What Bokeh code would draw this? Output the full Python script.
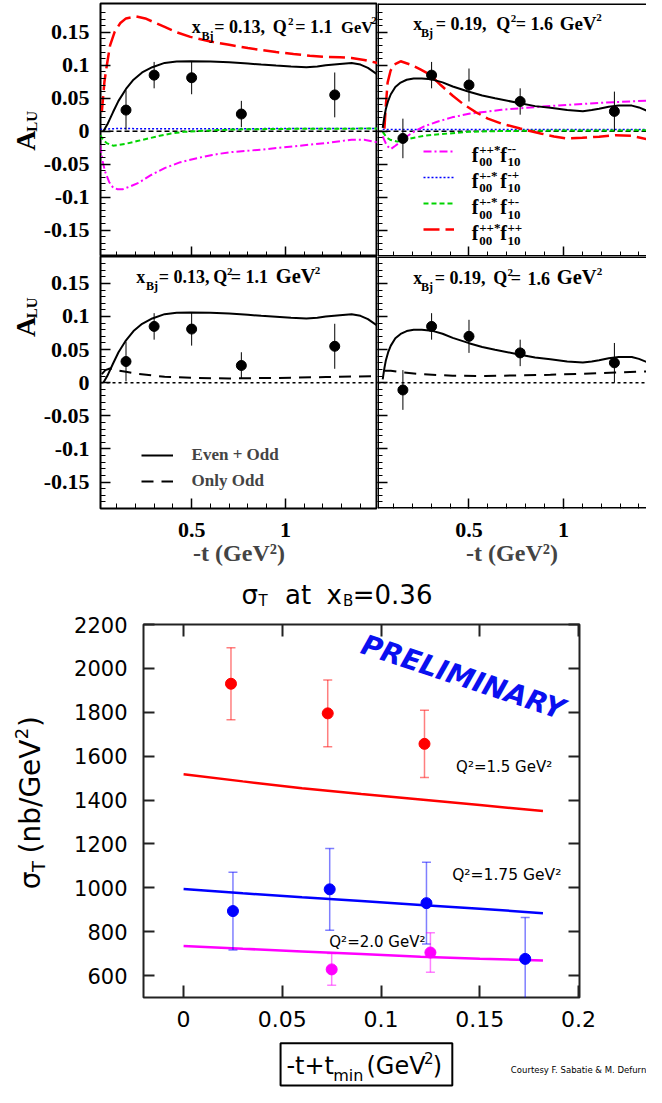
import math
from bokeh.plotting import figure
from bokeh.models import (Range1d, FixedTicker, Label, Legend, LegendItem, LinearAxis,
                          CustomJSTickFormatter, Span, BoxAnnotation)
from bokeh.layouts import column, row
from bokeh.embed import file_html
from bokeh.resources import INLINE

# ---------------- A_LU data (upper block) ----------------
T_13 = [0.150, 0.300, 0.500, 0.765, 1.263]
ALU_13 = [0.032, 0.085, 0.081, 0.026, 0.055]
ERR_13 = [0.030, 0.020, 0.025, 0.020, 0.034]

T_19 = [0.150, 0.302, 0.500, 0.771, 1.270]
ALU_19 = [-0.011, 0.085, 0.070, 0.045, 0.030]
ERR_19 = [0.030, 0.020, 0.025, 0.020, 0.030]

FULL13_T = [0.029, 0.05, 0.081, 0.11, 0.15, 0.19, 0.236, 0.29, 0.356, 0.42, 0.493, 0.60, 0.70,
            0.80, 0.871, 0.95, 1.03, 1.112, 1.17, 1.215, 1.29, 1.353, 1.40, 1.44, 1.49]
FULL13 = [0.0, 0.010, 0.029, 0.046, 0.064, 0.078, 0.089, 0.097, 0.1035, 0.1055, 0.106, 0.1055,
          0.1045, 0.1025, 0.101, 0.0995, 0.098, 0.097, 0.098, 0.100, 0.102, 0.1035, 0.101, 0.096, 0.086]

RED13_T = [0.021, 0.035, 0.047, 0.065, 0.090, 0.12, 0.150, 0.202, 0.253, 0.30, 0.356, 0.42, 0.493,
           0.60, 0.70, 0.80, 0.871, 0.95, 1.043, 1.13, 1.215, 1.29, 1.353, 1.42, 1.49]
RED13 = [0.029, 0.075, 0.0985, 0.130, 0.151, 0.164, 0.171, 0.174, 0.171, 0.165, 0.158, 0.150, 0.143,
         0.136, 0.131, 0.126, 0.123, 0.120, 0.117, 0.1145, 0.1125, 0.112, 0.111, 0.108, 0.1035]

MAG13_T = [0.012, 0.025, 0.038, 0.06, 0.081, 0.105, 0.132, 0.17, 0.219, 0.28, 0.356, 0.44, 0.528,
           0.61, 0.70, 0.871, 1.043, 1.215, 1.353, 1.42, 1.49]
MAG13 = [-0.021, -0.045, -0.061, -0.077, -0.0855, -0.088, -0.088, -0.084, -0.078, -0.067, -0.056,
         -0.047, -0.041, -0.036, -0.032, -0.028, -0.023, -0.018, -0.013, -0.013, -0.017]

GRN13_T = [0.012, 0.03, 0.047, 0.081, 0.15, 0.21, 0.27, 0.33, 0.39, 0.46, 0.528, 0.70, 1.0, 1.49]
GRN13 = [-0.006, -0.014, -0.018, -0.022, -0.019, -0.015, -0.011, -0.007, -0.0035, -0.001, 0.0,
         0.0025, 0.0035, 0.004]

BLU13_T = [0.012, 0.1, 0.5, 1.0, 1.49]
BLU13 = [0.003, 0.004, 0.0035, 0.004, 0.004]

FULL19_T = [0.043, 0.052, 0.060, 0.072, 0.086, 0.11, 0.138, 0.17, 0.207, 0.25, 0.302, 0.36, 0.414,
            0.50, 0.57, 0.638, 0.771, 0.85, 0.931, 1.02, 1.103, 1.15, 1.189, 1.24, 1.293, 1.362,
            1.40, 1.44]
FULL19 = [0.005, 0.022, 0.034, 0.046, 0.056, 0.067, 0.0737, 0.078, 0.080, 0.0798, 0.0786, 0.074,
          0.0677, 0.0597, 0.054, 0.0498, 0.0423, 0.038, 0.0354, 0.032, 0.0304, 0.032, 0.034, 0.037,
          0.0388, 0.0388, 0.036, 0.0313]

RED19_T = [0.052, 0.060, 0.069, 0.085, 0.103, 0.138, 0.19, 0.24, 0.293, 0.35, 0.414, 0.47, 0.535,
           0.60, 0.672, 0.771, 0.879, 0.95, 1.017, 1.10, 1.189, 1.276, 1.362, 1.44]
RED19 = [0.004, 0.040, 0.0737, 0.092, 0.101, 0.106, 0.101, 0.094, 0.086, 0.070, 0.0537, 0.041,
         0.029, 0.019, 0.0115, 0.004, -0.0035, -0.008, -0.011, -0.010, -0.0084, -0.006, -0.007, -0.012]

MAG19_T = [0.043, 0.065, 0.086, 0.11, 0.138, 0.17, 0.207, 0.26, 0.328, 0.41, 0.50, 0.672, 0.845,
           1.017, 1.189, 1.30, 1.44]
MAG19 = [-0.008, -0.022, -0.027, -0.022, -0.016, -0.008, -0.001, 0.007, 0.014, 0.021, 0.0264,
         0.0324, 0.0364, 0.0398, 0.0428, 0.0445, 0.0463]

GRN19_T = [0.043, 0.065, 0.086, 0.121, 0.19, 0.26, 0.328, 0.5, 0.672, 1.0, 1.44]
GRN19 = [-0.001, -0.010, -0.0134, -0.0158, -0.011, -0.007, -0.005, -0.001, 0.0003, 0.001, 0.0013]

BLU19_T = [0.043, 0.5, 1.0, 1.44]
BLU19 = [0.0025, 0.0025, 0.0025, 0.0025]

ODD13_T = [0.021, 0.04, 0.064, 0.098, 0.15, 0.219, 0.356, 0.528, 0.70, 0.871, 1.043, 1.215, 1.49]
ODD13 = [0.013, 0.019, 0.0215, 0.019, 0.0164, 0.013, 0.009, 0.007, 0.0065, 0.007, 0.0075, 0.0085, 0.010]

ODD19_T = [0.052, 0.086, 0.15, 0.241, 0.414, 0.586, 0.758, 0.931, 1.103, 1.276, 1.44]
ODD19 = [0.018, 0.018, 0.0155, 0.013, 0.0105, 0.010, 0.011, 0.012, 0.0135, 0.0155, 0.017]

ALU_TICKS = [-0.15, -0.1, -0.05, 0, 0.05, 0.1, 0.15]
ALU_MINOR = [round(-0.18 + 0.01 * i, 2) for i in range(37)]
T_TICKS = [0.5, 1.0]
T_MINOR = [round(0.1 * i, 1) for i in range(1, 15)]

# ---------------- sigma_T data (lower block) ----------------
T_RED = [0.024, 0.073, 0.122]
SIG_RED = [1930, 1795, 1656]
ERR_RED = [164, 152, 153]
T_BLUE = [0.025, 0.074, 0.123, 0.173]
SIG_BLUE = [894, 993, 930, 676]
ERR_BLUE = [177, 186, 186, 189]
T_MAG = [0.075, 0.125]
SIG_MAG = [628, 705]
ERR_MAG = [72, 90]
T_MODEL = [0, 0.03, 0.06, 0.09, 0.12, 0.15, 0.182]
MODEL_RED = [1517, 1485, 1454, 1427, 1402, 1377, 1350]
MODEL_BLUE = [995, 975, 957, 940, 922, 905, 884]
MODEL_MAG = [735, 722, 710, 698, 686, 677, 669]
SIG_TICKS = [600, 800, 1000, 1200, 1400, 1600, 1800, 2000, 2200]
TMIN_TICKS = [0, 0.05, 0.1, 0.15, 0.2]

# ---------------- layout helpers ----------------
SX = 646 / 662
SY = 1087 / 1103
SERIF = "Liberation Serif"
SANS = "DejaVu Sans"
RED, MAG, GRN, BLU = "#ff0000", "#ff00ff", "#00d400", "#0000ff"
EMPTY = "return '';"
MID = 0.34  # distance (in em) from the baseline up to the middle of the text box


def PX(x):
    return x * SX


def PY(y):
    return y * SY


def add_label(p, geo, xr, yr, text, size, font=SERIF, style="bold", color="black", align="left"):
    """Text whose baseline sits at reference pixel (xr, yr)."""
    ox, oy, fl, ft, fh = geo
    p.add_layout(Label(x=PX(xr) - ox - fl, y=oy + ft + fh - (PY(yr) - MID * size),
                       x_units="screen", y_units="screen", text=text, text_font=font,
                       text_font_style=style, text_font_size=f"{size}px", text_color=color,
                       text_align=align, text_baseline="middle"))


def add_vlabel(p, geo, cx, cy, text, size, font=SERIF, style="bold"):
    """Rotated (bottom-to-top) text centred on page pixel (cx, cy)."""
    ox, oy, fl, ft, fh = geo
    p.add_layout(Label(x=cx - ox - fl, y=oy + ft + fh - cy, x_units="screen", y_units="screen",
                       text=text, text_font=font, text_font_style=style,
                       text_font_size=f"{size}px", text_color="black", text_align="center",
                       text_baseline="middle", angle=math.pi / 2))


def text_fig(w, h):
    f = figure(width=w, height=h, x_range=Range1d(0, 1), y_range=Range1d(0, 1),
               x_axis_location=None, y_axis_location=None, output_backend="svg",
               toolbar_location=None, title=None, min_border=0, min_border_left=0,
               min_border_right=0, min_border_top=0, min_border_bottom=0)
    f.outline_line_color = None
    f.xgrid.visible = False
    f.ygrid.visible = False
    f.background_fill_color = "white"
    f.border_fill_color = "white"
    return f


def root_axis(ax, ticks, minor, show, size=22, standoff=10):
    ax.ticker = FixedTicker(ticks=ticks, minor_ticks=minor)
    ax.axis_line_color = None
    ax.major_tick_in = 10
    ax.major_tick_out = 0
    ax.minor_tick_in = 5
    ax.minor_tick_out = 0
    ax.major_tick_line_color = "black"
    ax.minor_tick_line_color = "black"
    ax.major_tick_line_width = 1.5
    ax.minor_tick_line_width = 1
    if show:
        ax.formatter = CustomJSTickFormatter(code="return String(Math.round(tick * 1000) / 1000);")
        ax.major_label_text_font = SERIF
        ax.major_label_text_font_style = "bold"
        ax.major_label_text_font_size = f"{size}px"
        ax.major_label_text_color = "black"
        ax.major_label_standoff = standoff
    else:
        ax.formatter = CustomJSTickFormatter(code=EMPTY)
        ax.major_label_text_font_size = "0px"
        ax.major_label_standoff = 0


def alu_panel(w, h, fl, ft, fb, xr, yr, show_y, show_x, zero_dash, open_right=False):
    p = figure(width=w, height=h, x_range=xr, y_range=yr, output_backend="svg",
               toolbar_location=None, title=None, min_border_left=fl, min_border_right=0,
               min_border_top=ft, min_border_bottom=fb)
    p.xgrid.visible = False
    p.ygrid.visible = False
    p.background_fill_color = "white"
    p.border_fill_color = "white"
    if open_right:
        # the reference crops these panels on the right: draw only left/top/bottom borders
        p.outline_line_color = None
        for loc, dim in ((yr.start, "width"), (yr.end, "width"), (xr.start, "height")):
            p.add_layout(Span(location=loc, dimension=dim, line_color="black", line_width=3))
    else:
        p.outline_line_color = "black"
        p.outline_line_width = 2
    root_axis(p.yaxis[0], ALU_TICKS, ALU_MINOR, show_y, size=22, standoff=11)
    root_axis(p.xaxis[0], T_TICKS, T_MINOR, show_x, size=22, standoff=14)
    if show_x:
        p.xaxis[0].axis_label = "-t (GeV²)"
        p.xaxis[0].axis_label_text_font = SERIF
        p.xaxis[0].axis_label_text_font_style = "bold"
        p.xaxis[0].axis_label_text_font_size = "24px"
        p.xaxis[0].axis_label_standoff = 0
    p.add_layout(Span(location=0, dimension="width", line_color="black", line_width=1.5,
                      line_dash=zero_dash, level="underlay"))
    return p


def data_points(p, t, a, e):
    p.segment(x0=t, y0=[v - d for v, d in zip(a, e)], x1=t, y1=[v + d for v, d in zip(a, e)],
              line_color="black", line_width=1)
    p.scatter(t, a, size=10, color="black")


def kin_text(p, geo, pieces):
    for xr, yr, txt, size in pieces:
        add_label(p, geo, xr, yr, txt, size)


XR_L = (0.014, 1.491)
XR_R = (0.0155, 1.44)
AW = 40   # strip carrying the rotated A_LU labels
H1 = 256  # upper row height
H2 = 317  # lower row height

# geometry (ox, oy, frame_left, frame_top, frame_height) in page pixels
G_AT = (0, 0, 0, 0, H1)
G_AB = (0, H1, 0, 0, H2)
G_TL = (AW, 0, 98 - AW, 3, 253)
G_TR = (377, 0, 0, 3, 253)
G_BL = (AW, H1, 98 - AW, 0, 252)
G_BR = (377, H1, 0, 0, 252)
G_TITLE = (0, H1 + H2, 0, 0, 38)
G_YLAB = (0, 611, 0, 0, 426)
G_XLAB = (0, 1037, 0, 0, 50)

# ---------------- A_LU label strips ----------------
a_top = text_fig(AW, H1)
a_bot = text_fig(AW, H2)
for f, g, yz in ((a_top, G_AT, 132.7), (a_bot, G_AB, 387.7)):
    add_vlabel(f, g, 24.5, PY(yz + 9.5), "A", 28)
    add_vlabel(f, g, 31.3, PY(yz - 10), "LU", 15)

# ---------------- top-left ----------------
p_tl = alu_panel(377 - AW, H1, 98 - AW, 3, 0, Range1d(*XR_L), Range1d(-0.190, 0.1936),
                 True, False, "5 3")
p_tl.line(BLU13_T, BLU13, line_color=BLU, line_width=1.5, line_dash="2 2")
p_tl.line(GRN13_T, GRN13, line_color=GRN, line_width=2, line_dash="5 3")
p_tl.line(MAG13_T, MAG13, line_color=MAG, line_width=2, line_dash="8 3 2 3")
p_tl.line(RED13_T, RED13, line_color=RED, line_width=2.5, line_dash="16 6")
p_tl.line(FULL13_T, FULL13, line_color="black", line_width=2)
data_points(p_tl, T_13, ALU_13, ERR_13)
kin_text(p_tl, G_TL, [(194, 33, "x", 18), (204, 40, "Bj", 12), (217, 33, "= 0.13,", 18),
                      (277, 33, "Q", 18), (292.5, 25, "2", 11), (300, 33, "= 1.1", 18),
                      (347, 33, "GeV", 16.5), (378, 24, "2", 11)])

# ---------------- top-right ----------------
p_tr = alu_panel(269, H1, 0, 3, 0, Range1d(*XR_R), Range1d(-0.190, 0.1936), False, False, "5 3",
                 open_right=True)
r_blu = p_tr.line(BLU19_T, BLU19, line_color=BLU, line_width=1.5, line_dash="2 2")
r_grn = p_tr.line(GRN19_T, GRN19, line_color=GRN, line_width=2, line_dash="5 3")
r_mag = p_tr.line(MAG19_T, MAG19, line_color=MAG, line_width=2, line_dash="8 3 2 3")
r_red = p_tr.line(RED19_T, RED19, line_color=RED, line_width=2.5, line_dash="16 6")
p_tr.line(FULL19_T, FULL19, line_color="black", line_width=2)
data_points(p_tr, T_19, ALU_19, ERR_19)
kin_text(p_tr, G_TR, [(423, 30, "x", 18), (431, 37, "Bj", 12), (446, 30, "= 0.19,", 18),
                      (508, 30, "Q", 18), (523, 22, "2", 11), (528, 30, "= 1.6", 18),
                      (573, 30, "GeV", 19), (610.5, 21, "2", 11)])
leg_tr = Legend(items=[LegendItem(label=" ", renderers=[r]) for r in (r_mag, r_blu, r_grn, r_red)],
                location=(45.5, 14), glyph_width=31, glyph_height=26, label_height=26,
                label_width=1, label_standoff=0, spacing=0, padding=0, margin=0,
                border_line_alpha=0, background_fill_alpha=0, label_text_font_size="1px")
p_tr.add_layout(leg_tr)
SUPS = [("++*", "--"), ("+-*", "-+"), ("+-*", "+-"), ("++*", "++")]
for ly, (s1, s2) in zip([153.3, 180.0, 206.7, 233.3], SUPS):
    add_label(p_tr, G_TR, 483, ly + 10, "f", 20)
    add_label(p_tr, G_TR, 490.5, ly + 15, "00", 13)
    add_label(p_tr, G_TR, 490.5, ly + 2, s1, 13)
    add_label(p_tr, G_TR, 512, ly + 10, "f", 20)
    add_label(p_tr, G_TR, 519.5, ly + 15, "10", 13)
    add_label(p_tr, G_TR, 519.5, ly + 2, s2, 13)

# ---------------- bottom-left ----------------
p_bl = alu_panel(377 - AW, H2, 98 - AW, 0, H2 - 252, Range1d(*XR_L), Range1d(-0.190, 0.1906),
                 True, True, "3 3")
r_full = p_bl.line(FULL13_T, FULL13, line_color="black", line_width=2)
r_odd = p_bl.line(ODD13_T, ODD13, line_color="black", line_width=2, line_dash="12 8")
data_points(p_bl, T_13, ALU_13, ERR_13)
kin_text(p_bl, G_BL, [(137, 287, "x", 18), (147, 294, "Bj", 12), (160, 287, "= 0.13,", 18),
                      (216, 287, "Q", 18), (230, 279, "2", 11), (234, 287, "= 1.1", 18),
                      (280, 287, "GeV", 20.5), (320, 278, "2", 11)])
leg_bl = Legend(items=[LegendItem(label="Even + Odd", renderers=[r_full]),
                       LegendItem(label="Only Odd", renderers=[r_odd])],
                location=(40.6, 13.7), glyph_width=32, glyph_height=26, label_height=26,
                label_standoff=19, spacing=0, padding=0, margin=0, border_line_alpha=0,
                background_fill_alpha=0, label_text_font=SERIF, label_text_font_style="bold",
                label_text_font_size="17px")
p_bl.add_layout(leg_bl)

# ---------------- bottom-right ----------------
p_br = alu_panel(269, H2, 0, 0, H2 - 252, Range1d(*XR_R), Range1d(-0.190, 0.1906), False, True,
                 "3 3", open_right=True)
p_br.line(FULL19_T, FULL19, line_color="black", line_width=2)
p_br.line(ODD19_T, ODD19, line_color="black", line_width=2, line_dash="12 8")
data_points(p_br, T_19, ALU_19, ERR_19)
kin_text(p_br, G_BR, [(423, 288, "x", 18), (431, 295, "Bj", 12), (445, 288, "= 0.19,", 18),
                      (505, 288, "Q", 18), (519.5, 280, "2", 11), (523, 288, "=", 18),
                      (540, 288, "1.6", 18), (570, 288, "GeV", 20.5), (611, 279, "2", 11)])

# ---------------- sigma_T chart ----------------
YW = 58  # strip carrying the rotated y label
p = figure(width=646 - YW, height=426, x_range=Range1d(-0.0203, 0.2005),
           y_range=Range1d(500, 2200), output_backend="svg", toolbar_location=None, title=None,
           min_border_left=143 - YW, min_border_right=67, min_border_top=13, min_border_bottom=40)
p.xgrid.visible = False
p.ygrid.visible = False
p.outline_line_color = "#222222"
p.outline_line_width = 2
p.background_fill_color = "white"
p.border_fill_color = "white"


def bot_axis(ax, ticks, show, size, standoff, tick_len):
    ax.ticker = FixedTicker(ticks=ticks)
    ax.axis_line_color = None
    ax.major_tick_in = tick_len
    ax.major_tick_out = 0
    ax.minor_tick_line_color = None
    ax.major_tick_line_color = "#222222"
    ax.major_tick_line_width = 2
    if show:
        ax.formatter = CustomJSTickFormatter(code="return tick.toString();")
        ax.major_label_text_font = SANS
        ax.major_label_text_font_size = f"{size}px"
        ax.major_label_text_color = "black"
        ax.major_label_standoff = standoff
    else:
        ax.formatter = CustomJSTickFormatter(code=EMPTY)
        ax.major_label_text_font_size = "0px"
        ax.major_label_standoff = 0


bot_axis(p.yaxis[0], SIG_TICKS, True, 21, 16, 11)
bot_axis(p.xaxis[0], TMIN_TICKS, True, 22, 13, 12)
ax_r = LinearAxis()
bot_axis(ax_r, SIG_TICKS, False, 0, 0, 11)
p.add_layout(ax_r, "right")
ax_t = LinearAxis()
bot_axis(ax_t, TMIN_TICKS, False, 0, 0, 12)
p.add_layout(ax_t, "above")

for model, col in ((MODEL_RED, RED), (MODEL_BLUE, BLU), (MODEL_MAG, MAG)):
    p.line(T_MODEL, model, line_color=col, line_width=2.5)

for t, s, e, col in ((T_RED, SIG_RED, ERR_RED, RED), (T_BLUE, SIG_BLUE, ERR_BLUE, BLU),
                     (T_MAG, SIG_MAG, ERR_MAG, MAG)):
    lo = [v - d for v, d in zip(s, e)]
    hi = [v + d for v, d in zip(s, e)]
    p.segment(x0=t, y0=lo, x1=t, y1=hi, line_color=col, line_alpha=0.5, line_width=1.5)
    p.scatter(t, lo, marker="dash", size=9, line_color=col, line_alpha=0.5, line_width=1.5)
    p.scatter(t, hi, marker="dash", size=9, line_color=col, line_alpha=0.5, line_width=1.5)
    p.scatter(t, s, size=11, color=col)

p.add_layout(Label(x=0.1415, y=1960, text="PRELIMINARY", angle=-0.32, text_align="center",
                   text_baseline="middle", text_font=SANS, text_font_style="bold italic",
                   text_font_size="28px", text_color="#0a10f0"))
for qx, qy, qtxt, qsize in [(0.138, 1550, "Q²=1.5 GeV²", 15), (0.136, 1057, "Q²=1.75 GeV²", 15.5),
                            (0.0738, 751, "Q²=2.0 GeV²", 15)]:
    p.add_layout(Label(x=qx, y=qy, text=qtxt, text_font=SANS, text_font_size=f"{qsize}px",
                       text_color="black", text_baseline="middle"))

# title strip
t_fig = text_fig(646, 38)
for xr, yr, txt, size in [(247, 612, "σ", 26), (264.5, 615, "T", 15), (291.5, 612, "at", 26),
                          (334, 612, "x", 26), (351, 615, "B", 15), (361, 612, "=0.36", 26)]:
    add_label(t_fig, G_TITLE, xr, yr, txt, size, font=SANS, style="normal")

# y-label strip (rotated text, each piece centred)
y_fig = text_fig(YW, 426)
for cx, cy, txt, size in [(30, 920, "σ", 28), (38, 906, "T", 18), (30, 836, "(nb/GeV", 28),
                          (21, 773, "2", 18), (30, 761, ")", 28)]:
    add_vlabel(y_fig, G_YLAB, cx, cy, txt, size, font=SANS, style="normal")

# x-label strip with boxed label and credit line
x_fig = text_fig(646, 50)
ox, oy, fl, ft, fh = G_XLAB
x_fig.add_layout(BoxAnnotation(left=PX(287), right=PX(463), bottom=oy + fh - PY(1101),
                               top=oy + fh - PY(1058), left_units="screen", right_units="screen",
                               top_units="screen", bottom_units="screen", fill_alpha=0,
                               line_color="black", line_alpha=1.0, line_width=2))
for xr, yr, txt, size in [(293, 1089, "-t+t", 24), (341, 1096, "min", 16), (375, 1089, "(GeV", 24),
                          (434, 1078, "2", 15), (443, 1089, ")", 24)]:
    add_label(x_fig, G_XLAB, xr, yr, txt, size, font=SANS, style="normal")
add_label(x_fig, G_XLAB, 523, 1088, "Courtesy F. Sabatie & M. Defurn", 8.5, font=SANS,
          style="normal")

layout = column(row(a_top, p_tl, p_tr, spacing=0),
                row(a_bot, p_bl, p_br, spacing=0),
                t_fig,
                row(y_fig, p, spacing=0),
                x_fig, spacing=0)
open("out.html", "w").write(file_html(layout, INLINE, title="chart"))
